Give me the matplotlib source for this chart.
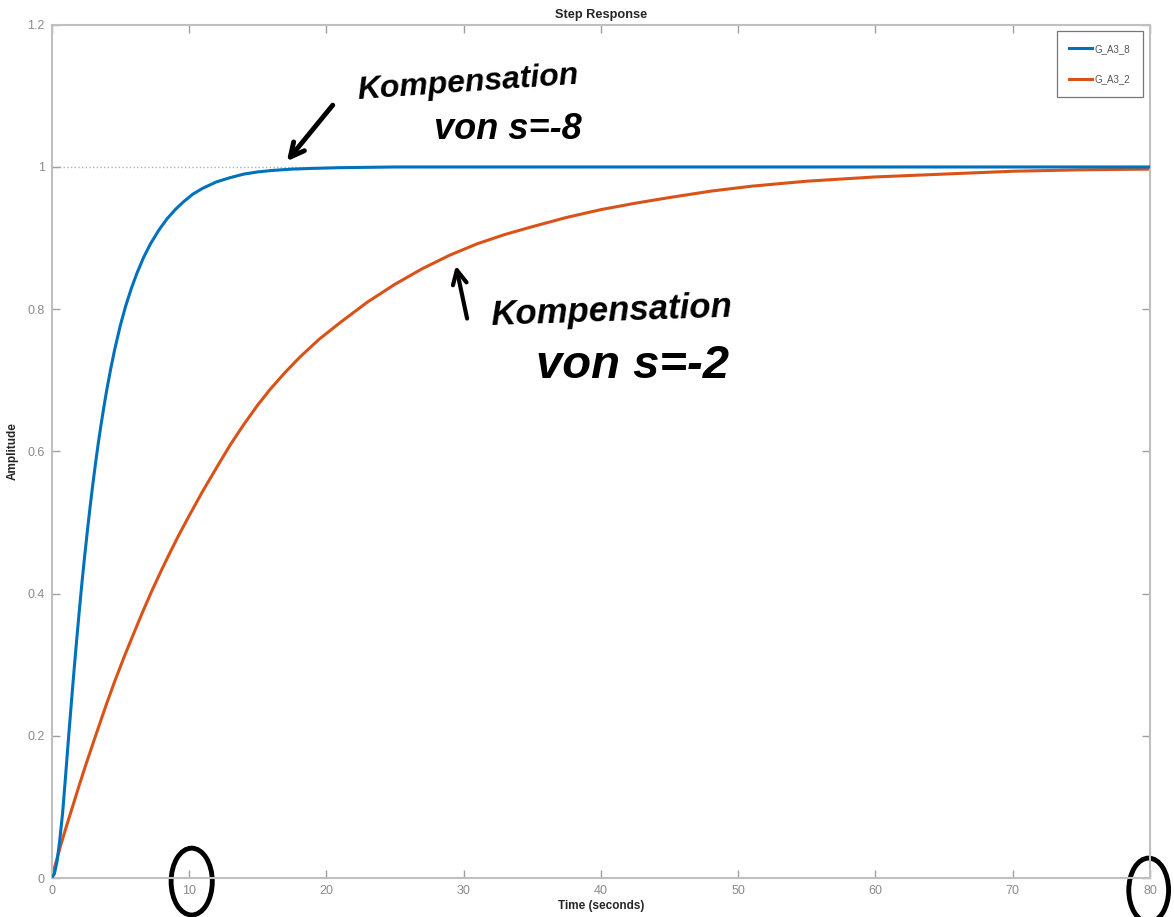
import matplotlib.pyplot as plt
from matplotlib.patches import Ellipse

plt.rcParams['font.family'] = ['Liberation Sans', 'DejaVu Sans']

# values
t_fast = [0, 0.2, 0.4, 0.6, 0.8, 1.0, 1.2, 1.4, 1.6, 1.8, 2.0, 2.2, 2.4, 2.6, 2.8, 3.0,
          3.2, 3.4, 3.6, 3.8, 4.0, 4.3, 4.6, 5.0, 5.4, 5.8, 6.2, 6.7, 7.2, 7.8, 8.4, 9.0,
          9.6, 10.3, 11, 12, 13, 14, 15, 16, 17.5, 19, 21, 25, 30, 40, 50, 60, 70, 80]
y_fast = [0, 0.006, 0.024, 0.055, 0.092, 0.14, 0.19, 0.238, 0.285, 0.33, 0.373, 0.414,
          0.452, 0.488, 0.522, 0.554, 0.584, 0.612, 0.638, 0.662, 0.685, 0.716, 0.744,
          0.777, 0.805, 0.829, 0.85, 0.873, 0.892, 0.911, 0.927, 0.94, 0.951, 0.962,
          0.97, 0.979, 0.985, 0.99, 0.993, 0.995, 0.997, 0.998, 0.999, 1.0, 1.0, 1.0,
          1.0, 1.0, 1.0, 1.0]

t_slow = [0, 0.6, 1.0, 1.5, 2.0, 2.5, 3.2, 4.0, 4.6, 5.3, 6.0, 6.6, 7.3, 8.0, 8.5, 9.2,
          10, 11, 12.1, 13, 14, 15, 15.9, 17, 18.1, 19.5, 21, 23, 25, 27, 29, 31, 33, 35,
          37.5, 40, 42.5, 45, 48, 51, 55, 60, 65, 70, 75, 80]
y_slow = [0, 0.042, 0.068, 0.099, 0.13, 0.16, 0.2, 0.245, 0.277, 0.312, 0.345, 0.373,
          0.404, 0.433, 0.453, 0.48, 0.509, 0.544, 0.58, 0.609, 0.638, 0.665, 0.687,
          0.711, 0.733, 0.758, 0.781, 0.81, 0.835, 0.857, 0.876, 0.892, 0.905, 0.916,
          0.929, 0.94, 0.949, 0.957, 0.966, 0.973, 0.98, 0.986, 0.990, 0.994, 0.996,
          0.997]

labels = ['G_A3_8', 'G_A3_2']
x_ticks = [0, 10, 20, 30, 40, 50, 60, 70, 80]
y_ticks = [0, 0.2, 0.4, 0.6, 0.8, 1, 1.2]

fig = plt.figure(figsize=(11.74, 9.17), dpi=100)
ax = fig.add_axes([0.0440, 0.0425, 0.9356, 0.9305])

ax.axhline(1, color='#b0b0b0', lw=1, ls=':', zorder=1)
ax.plot(t_fast, y_fast, color='#0072BD', lw=2.2, label=labels[0], zorder=3)
ax.plot(t_slow, y_slow, color='#D95319', lw=2.2, label=labels[1], zorder=2)

ax.set_xlim(0, 80)
ax.set_ylim(0, 1.2)
ax.set_xticks(x_ticks)
ax.set_yticks(y_ticks)
ax.set_yticklabels(['0', '0.2', '0.4', '0.6', '0.8', '1', '1.2'])
ax.tick_params(direction='in', length=6, width=1, colors='#a0a0a0', labelcolor='#8a8a8a',
               labelsize=9, top=True, right=True, pad=5)
for s in ax.spines.values():
    s.set_color('#c0c0c0')
    s.set_linewidth(1.5)

ax.set_title('Step Response', fontsize=9.2, fontweight='bold', color='#262626', pad=5)
ax.set_xlabel('Time (seconds)', fontsize=8.5, fontweight='bold', color='#262626', labelpad=2)
ax.set_ylabel('Amplitude', fontsize=8.5, fontweight='bold', color='#262626', labelpad=6)

leg = ax.legend(loc='upper right', bbox_to_anchor=(0.9933, 0.9924), borderaxespad=0,
                fontsize=7, frameon=True, fancybox=False, handlelength=2.3,
                handletextpad=0.3, labelspacing=2.1, borderpad=1.3, labelcolor='#555555')
leg.get_frame().set_edgecolor('#555555')
leg.get_frame().set_linewidth(0.9)

# handwritten notes
hw = dict(fontweight='bold', fontstyle='italic', color='black',
          ha='center', va='center', clip_on=False)
ax.text(30.3, 1.118, 'Kompensation', fontsize=23, rotation=4, **hw)
ax.text(33.2, 1.053, 'von s=-8', fontsize=26, **hw)
ax.text(40.8, 0.797, 'Kompensation', fontsize=25, rotation=2, **hw)
ax.text(42.3, 0.72, 'von s=-2', fontsize=34, **hw)

ax.annotate('', xy=(17.0, 1.005), xytext=(20.6, 1.09), annotation_clip=False,
            arrowprops=dict(arrowstyle='->', lw=3.5, color='black', mutation_scale=25))
ax.annotate('', xy=(29.4, 0.865), xytext=(30.3, 0.783), annotation_clip=False,
            arrowprops=dict(arrowstyle='->', lw=3, color='black', mutation_scale=25))

ax.add_patch(Ellipse((10.2, -0.005), 3.0, 0.094, fill=False, lw=3.5, color='black',
                     clip_on=False))
ax.add_patch(Ellipse((79.9, -0.017), 2.9, 0.09, fill=False, lw=3.5, color='black',
                     clip_on=False))

fig.savefig('out.png', dpi=100)
